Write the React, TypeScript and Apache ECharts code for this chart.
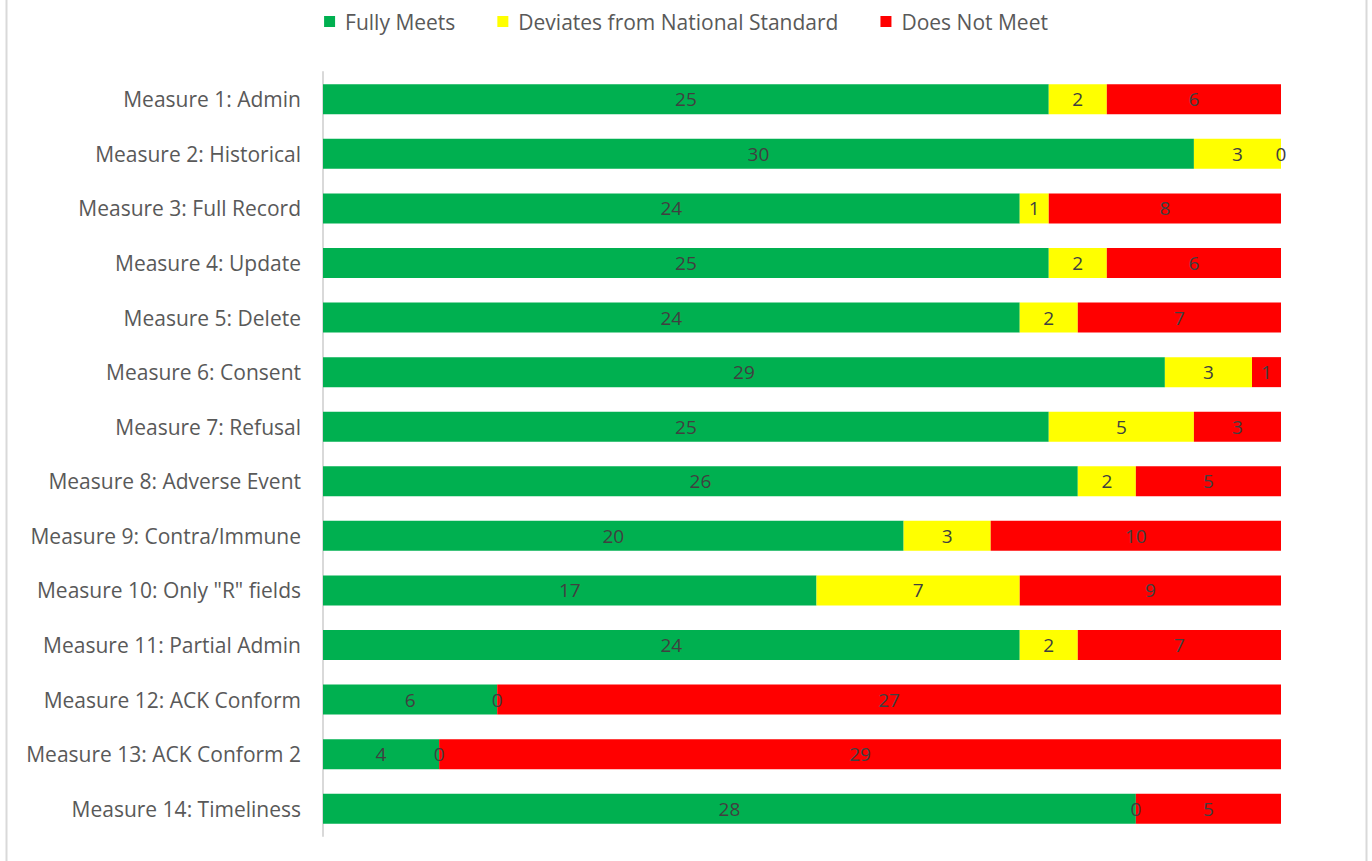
import React, { useEffect, useRef } from "react";
import * as echarts from "echarts";

const categories = [
  "Measure 1: Admin",
  "Measure 2: Historical",
  "Measure 3: Full Record",
  "Measure 4: Update",
  "Measure 5: Delete",
  "Measure 6: Consent",
  "Measure 7: Refusal",
  "Measure 8: Adverse Event",
  "Measure 9: Contra/Immune",
  'Measure 10: Only "R" fields',
  "Measure 11: Partial Admin",
  "Measure 12: ACK Conform",
  "Measure 13: ACK Conform 2",
  "Measure 14: Timeliness",
];
const fullyMeets = [25, 30, 24, 25, 24, 29, 25, 26, 20, 17, 24, 6, 4, 28];
const deviates = [2, 3, 1, 2, 2, 3, 5, 2, 3, 7, 2, 0, 0, 0];
const doesNotMeet = [6, 0, 8, 6, 7, 1, 3, 5, 10, 9, 7, 27, 29, 5];

const seriesNames = ["Fully Meets", "Deviates from National Standard", "Does Not Meet"];
const seriesColors = ["#00B050", "#FFFF00", "#FF0000"];
const FONT = "'Open Sans', sans-serif";

export default function App() {
  const ref = useRef<HTMLDivElement>(null);
  useEffect(() => {
    document.body.style.margin = "0";
    if (!ref.current) return;
    const chart = echarts.init(ref.current, undefined, { renderer: "svg" });
    const datasets = [fullyMeets, deviates, doesNotMeet];
    chart.setOption({
      animation: false,
      backgroundColor: "#ffffff",
      legend: {
        top: 6,
        left: "center",
        itemWidth: 11,
        itemHeight: 11,
        itemGap: 42,
        icon: "rect",
        textStyle: {
          fontFamily: FONT,
          fontSize: 21,
          color: "#595959",
          padding: [0, 0, 0, 5],
        },
        data: seriesNames,
      },
      grid: { left: 323, right: 91, top: 72, bottom: 25, containLabel: false },
      xAxis: {
        type: "value",
        min: 0,
        max: 33,
        show: false,
      },
      yAxis: {
        type: "category",
        inverse: true,
        data: categories,
        axisLine: { show: true, lineStyle: { color: "#D9D9D9", width: 2 } },
        axisTick: { show: false },
        axisLabel: {
          fontFamily: FONT,
          fontSize: 21,
          color: "#595959",
          margin: 22,
        },
        splitLine: { show: false },
      },
      series: datasets.map((d, i) => ({
        name: seriesNames[i],
        type: "bar",
        stack: "total",
        barWidth: "55%",
        data: d,
        itemStyle: { color: seriesColors[i] },
        label: {
          show: true,
          position: "inside",
          fontFamily: FONT,
          fontSize: 19,
          color: "#404040",
        },
      })),
      graphic: [
        {
          type: "line",
          shape: { x1: 6.5, y1: 0, x2: 6.5, y2: 861 },
          style: { stroke: "#D9D9D9", lineWidth: 2 },
        },
        {
          type: "line",
          shape: { x1: 1366.5, y1: 0, x2: 1366.5, y2: 861 },
          style: { stroke: "#D9D9D9", lineWidth: 2 },
        },
      ],
    });
    return () => chart.dispose();
  }, []);
  return <div ref={ref} style={{ width: 1372, height: 861 }} />;
}
